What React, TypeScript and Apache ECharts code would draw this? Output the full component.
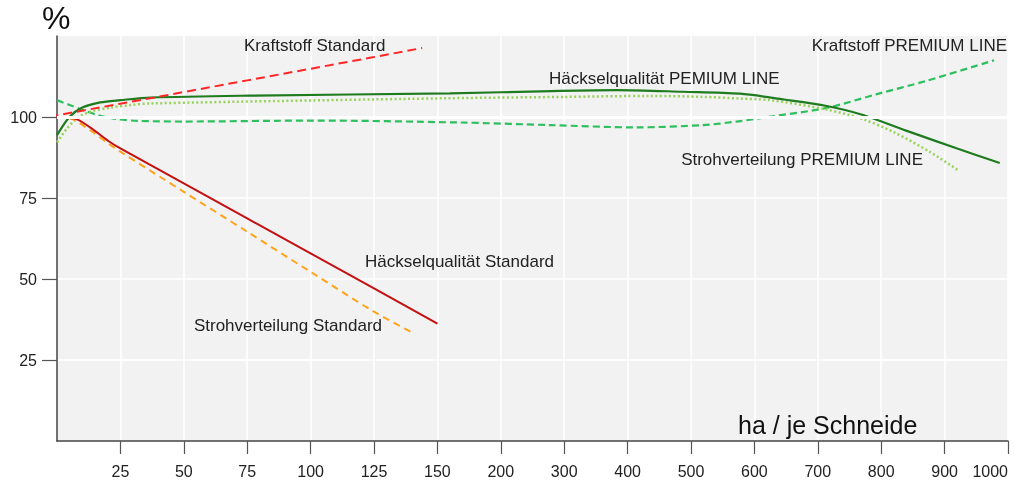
import { useEffect, useRef } from 'react';
import * as echarts from 'echarts';

// x axis tick labels (ha / je Schneide), one per axis index 0..15
const xTickLabels = ['', '25', '50', '75', '100', '125', '150', '200', '300', '400', '500', '600', '700', '800', '900', '1000'];
const yTickValues = [25, 50, 75, 100];

// series values: [ha, %]
const kraftstoffStandard: [number, number][] = [[-3, 100.1], [25, 104.1], [50, 107.7], [75, 111.3], [100, 114.9], [125, 118.5], [144, 121.3]];
const haeckselStandard: [number, number][] = [[0, 99.8], [7, 99.5], [13, 96.8], [21, 92.2], [25, 90.3], [50, 79.5], [75, 68.7], [100, 57.9], [125, 47.1], [150, 36.2]];
const strohStandard: [number, number][] = [[0, 100], [5, 99.7], [13, 95.9], [21, 91.4], [25, 89.3], [50, 76.9], [75, 64.6], [100, 52.2], [125, 39.9], [140, 33.5]];
const haeckselPremium: [number, number][] = [[0, 94.4], [5, 100.1], [10, 102.9], [17, 104.5], [25, 105.2], [37, 106], [76, 106.6], [160, 107.3], [280, 108], [383, 108.3], [487, 107.8], [577, 107.2], [647, 105.4], [714, 103.4], [770, 100.7], [845, 95.4], [921, 90.2], [987, 85.8]];
const strohPremium: [number, number][] = [[0, 92.2], [4, 96.5], [8, 99.6], [13, 101.6], [21, 102.9], [29, 103.7], [37, 104.2], [160, 105.8], [300, 106.2], [435, 106.5], [520, 106.2], [577, 105.7], [625, 105.2], [714, 102.3], [770, 99.4], [819, 95.4], [877, 89.2], [922, 83.5]];
const kraftstoffPremium: [number, number][] = [[0, 105.2], [5, 103.7], [10, 102.2], [17, 100.4], [24, 99.3], [32, 98.8], [50, 98.6], [101, 98.9], [168, 98.3], [278, 97.5], [414, 96.8], [519, 97.5], [572, 98.6], [625, 100.1], [714, 102.8], [792, 107], [872, 111.2], [978, 117.5]];

// piecewise axis scale: 25 ha per step up to 150, 50 up to 200, then 100
function haToIdx(ha: number): number {
  if (ha <= 150) return ha / 25;
  if (ha <= 200) return 6 + (ha - 150) / 50;
  return 7 + (ha - 200) / 100;
}
const toAxis = (d: [number, number][]) => d.map(([h, v]) => [haToIdx(h), v]);

const FONT = '"Liberation Sans", Arial, sans-serif';

export default function App() {
  const ref = useRef<HTMLDivElement>(null);
  useEffect(() => {
    if (!ref.current) return;
    const chart = echarts.init(ref.current, undefined, { renderer: 'svg' });
    const line = (name: string, data: [number, number][], color: string, type: any, width = 2, smooth: number | boolean = 0.3) => ({
      name,
      type: 'line',
      data: toAxis(data),
      showSymbol: false,
      symbol: 'none',
      smooth,
      clip: false,
      lineStyle: { color, width, type },
      z: 3,
    });
    const textStyle = { fontFamily: FONT, fontSize: 17, fill: '#222' };
    const txt = (x: number, y: number, text: string, align = 'left') => ({
      type: 'text', x, y, z: 100, style: { ...textStyle, text, textAlign: align, textVerticalAlign: 'middle' },
    });
    chart.setOption({
      animation: false,
      grid: { left: 57, right: 6, top: 36, bottom: 40, show: true, backgroundColor: '#f2f2f2', borderWidth: 0 },
      xAxis: {
        type: 'value', min: 0, max: 15, interval: 1,
        axisLine: { lineStyle: { color: '#444', width: 1.5 } },
        axisTick: { show: true, length: 13, lineStyle: { color: '#555', width: 1.2 }, customValues: [1, 2, 3, 4, 5, 6, 7, 8, 9, 10, 11, 12, 13, 14, 15] },
        axisLabel: {
          color: '#222', fontFamily: FONT, fontSize: 16, margin: 22,
          customValues: [1, 2, 3, 4, 5, 6, 7, 8, 9, 10, 11, 12, 13, 14, 15],
          formatter: (v: number) => xTickLabels[Math.round(v)] ?? '',
          alignMaxLabel: 'right',
        },
        splitLine: { show: true, lineStyle: { color: '#ffffff', width: 1.5 } },
      },
      yAxis: {
        type: 'value', min: 0, max: 125, interval: 25,
        axisLine: { show: true, lineStyle: { color: '#444', width: 1.5 } },
        axisTick: { show: true, length: 15, lineStyle: { color: '#555', width: 1.2 }, customValues: yTickValues },
        axisLabel: { color: '#222', fontFamily: FONT, fontSize: 16, margin: 20, customValues: yTickValues },
        splitLine: { show: true, lineStyle: { color: '#ffffff', width: 1.5 } },
      },
      series: [
        {
          type: 'line', data: [], z: 1, silent: true,
          markLine: {
            silent: true, symbol: 'none', label: { show: false },
            lineStyle: { color: '#ffffff', width: 3, type: 'solid' },
            data: [{ yAxis: 100 }],
          },
        },
        line('Kraftstoff PREMIUM LINE', kraftstoffPremium, '#2ebf5f', [7, 4], 2.2),
        line('Strohverteilung PREMIUM LINE', strohPremium, '#98d25a', [2, 2.5], 2.5),
        line('Häckselqualität PEMIUM LINE', haeckselPremium, '#1e7b1e', 'solid', 2.2),
        line('Strohverteilung Standard', strohStandard, '#ffa31a', [7, 5], 2),
        line('Häckselqualität Standard', haeckselStandard, '#c41010', 'solid', 2),
        line('Kraftstoff Standard', kraftstoffStandard, '#ff2626', [9, 5], 2, false),
      ],
      graphic: [
        { type: 'text', left: 42, top: 2, z: 100, style: { text: '%', fontFamily: FONT, fontSize: 32, fill: '#111' } },
        { type: 'text', x: 738, y: 425, z: 100, style: { text: 'ha / je Schneide', fontFamily: FONT, fontSize: 25, fill: '#111', textVerticalAlign: 'middle' } },
        txt(244, 45, 'Kraftstoff Standard'),
        txt(549, 78, 'Häckselqualität PEMIUM LINE'),
        txt(1007, 45, 'Kraftstoff PREMIUM LINE', 'right'),
        txt(923, 159, 'Strohverteilung PREMIUM LINE', 'right'),
        txt(365, 261, 'Häckselqualität Standard'),
        txt(382, 325, 'Strohverteilung Standard', 'right'),
      ],
    });
    return () => chart.dispose();
  }, []);
  return <div ref={ref} style={{ position: 'fixed', left: 0, top: 0, width: 1014, height: 481 }} />;
}
